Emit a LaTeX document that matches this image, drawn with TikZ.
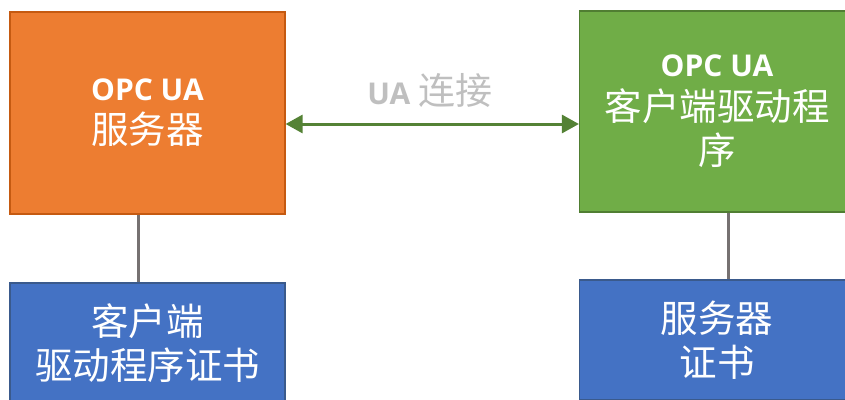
\documentclass[tikz,border=0pt]{standalone}
\usepackage{fontspec}
\setmainfont{Open Sans}
\newfontfamily\cjk{Noto Sans CJK SC}
\newfontfamily\lat{Open Sans}
\usetikzlibrary{arrows.meta}

\definecolor{orangefill}{HTML}{ED7D31}
\definecolor{orangeedge}{HTML}{C55A11}
\definecolor{greenfill}{HTML}{70AD47}
\definecolor{greenedge}{HTML}{507E32}
\definecolor{bluefill}{HTML}{4472C4}
\definecolor{blueedge}{HTML}{3A5A8C}
\definecolor{arrowgreen}{HTML}{548235}
\definecolor{linkgray}{HTML}{767171}
\definecolor{labelgray}{HTML}{BFBFBF}

\newcommand{\opcua}{{\lat\bfseries\fontsize{30}{44}\selectfont OPC UA}}

\begin{document}
\begin{tikzpicture}[x=1pt,y=-1pt,
  box/.style={draw,line width=1.2pt,minimum width=275pt,text=white,
    align=center,inner sep=0pt,font=\cjk\fontsize{37.5}{44}\selectfont},
  server/.style={box,fill=orangefill,draw=orangeedge,minimum height=202pt},
  client/.style={box,fill=greenfill,draw=greenedge,minimum height=201pt},
  cert/.style={box,fill=bluefill,draw=blueedge,minimum height=120pt},
  link/.style={draw=linkgray,line width=3pt}]

\useasboundingbox (0,0) rectangle (845,399);

% Server and client
\node[server] (srv) at (147.5,113) {\opcua\\[-1pt]服务器};
\node[client] (cli) at (717,111.5) {\opcua\\客户端驱动程\\序};

% Certificates
\node[cert] (srvcert) at (147.5,343) {客户端\\驱动程序证书};
\node[cert] (clicert) at (717,340) {服务器\\证书};

% Links to certificates
\draw[link] ([xshift=-9.5pt]srv.south) -- ([xshift=-9.5pt]srvcert.north);
\draw[link] ([xshift=11pt]cli.south) -- ([xshift=11pt]clicert.north);

% UA connection
\coordinate (mid) at (432,124);
\draw[arrowgreen,line width=3pt,{Triangle[length=17pt,width=18pt]}-{Triangle[length=17pt,width=18pt]}]
  (srv.east |- mid) -- (cli.west |- mid);
\node[text=labelgray,font=\cjk\fontsize{37}{40}\selectfont] (conn) at (430,90)
  {{\lat\bfseries\fontsize{30}{40}\selectfont UA} 连接};

\end{tikzpicture}
\end{document}
